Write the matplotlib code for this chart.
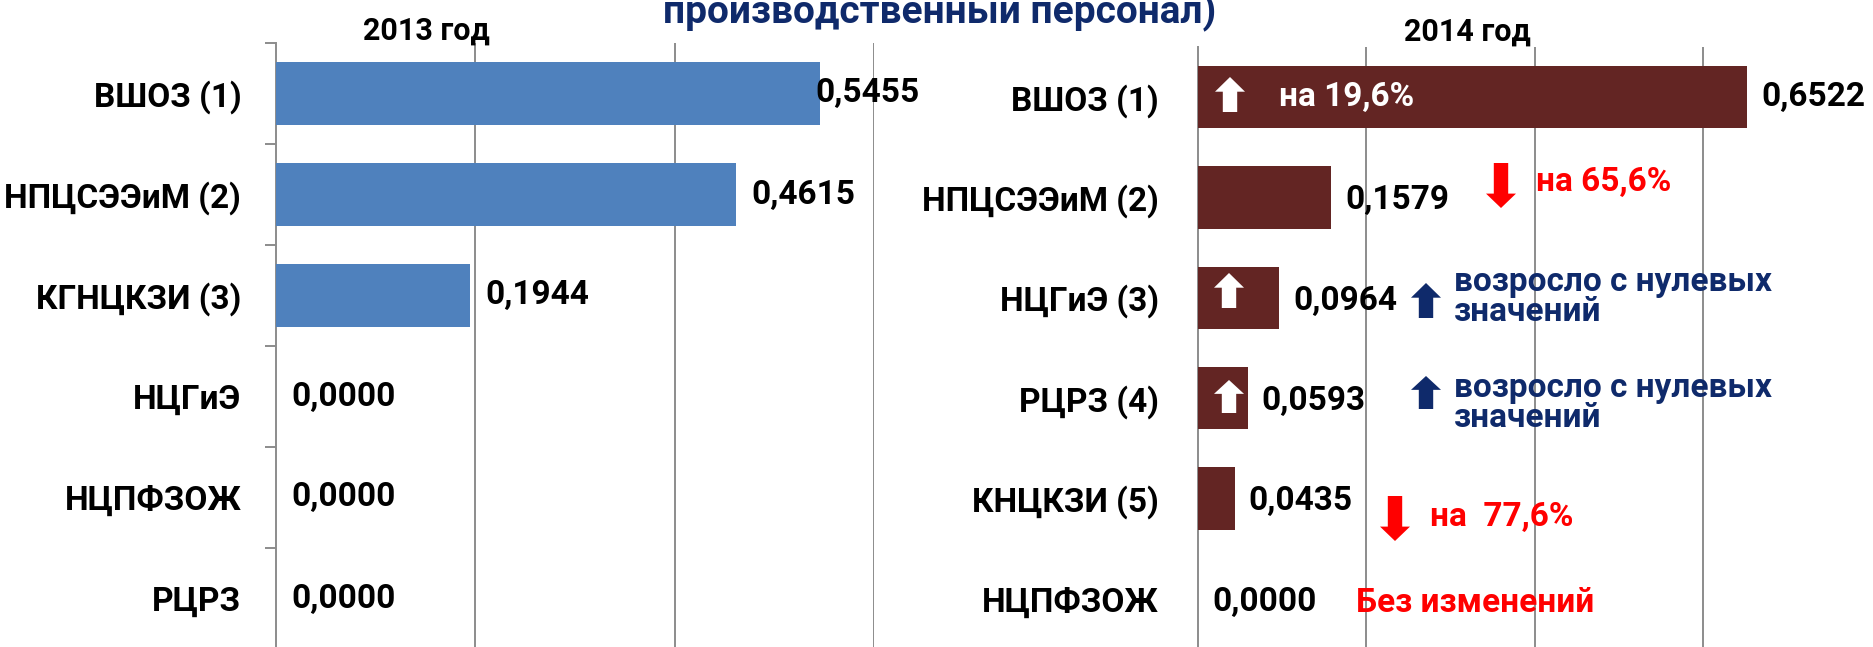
import matplotlib
matplotlib.use('Agg')
import matplotlib.pyplot as plt
from matplotlib.patches import Polygon

plt.rcParams['font.family'] = ['Roboto', 'DejaVu Sans']
plt.rcParams['font.weight'] = 'bold'

# ---------------- data ----------------
title_text = "производственный персонал)"
year_2013 = "2013 год"
year_2014 = "2014 год"

cats_2013 = ["ВШОЗ (1)", "НПЦСЭЭиМ (2)", "КГНЦКЗИ (3)", "НЦГиЭ", "НЦПФЗОЖ", "РЦРЗ"]
vals_2013 = [0.5455, 0.4615, 0.1944, 0.0, 0.0, 0.0]

cats_2014 = ["ВШОЗ (1)", "НПЦСЭЭиМ (2)", "НЦГиЭ (3)", "РЦРЗ (4)", "КНЦКЗИ (5)", "НЦПФЗОЖ"]
vals_2014 = [0.6522, 0.1579, 0.0964, 0.0593, 0.0435, 0.0]

grid_2013 = [0.2, 0.4, 0.6]
grid_2014 = [0.2, 0.4, 0.6]

note_up = "на 19,6%"
note_down1 = "на 65,6%"
note_zero = "возросло с нулевых\nзначений"
note_down2 = "на  77,6%"
note_same = "Без изменений"

# ---------------- style ----------------
W, H = 1874, 647
BLUE = '#4F81BD'
MAROON = '#632523'
NAVY = '#0F2A6B'
RED = '#FF0000'
GRID = '#8C8C8C'
FS = 24

fig = plt.figure(figsize=(W / 100, H / 100), dpi=100)


def fx(px):
    return px / W


def fy(py):
    return 1 - py / H


def fmt(v):
    return f"{v:.4f}".replace('.', ',')


def setup(ax, cats, vals, color, xmax, grid, ticks_out, pad):
    n = len(cats)
    ax.barh(range(n), vals, height=0.62, color=color, zorder=3)
    ax.set_ylim(n - 0.5, -0.5)
    ax.set_xlim(0, xmax)
    ax.set_xticks(grid)
    ax.xaxis.grid(True, color=GRID, linewidth=1.4, zorder=0)
    ax.tick_params(axis='x', length=0, labelbottom=False)
    ax.set_yticks(range(n))
    ax.set_yticklabels(cats, fontsize=FS, fontweight='bold')
    ax.tick_params(axis='y', which='major', length=0, pad=pad)
    if ticks_out:
        ax.set_yticks([i - 0.5 for i in range(n + 1)], minor=True)
        ax.tick_params(axis='y', which='minor', length=8, width=1.4,
                       color=GRID, direction='out')
    for s in ['top', 'right', 'bottom']:
        ax.spines[s].set_visible(False)
    ax.spines['left'].set_color(GRID)
    ax.spines['left'].set_linewidth(1.4)
    ax.set_facecolor('none')


ax1 = fig.add_axes([fx(276), fy(649), fx(874 - 276), (649 - 43) / H])
ax2 = fig.add_axes([fx(1198), fy(649), fx(1872 - 1198), (649 - 47) / H])

setup(ax1, cats_2013, vals_2013, BLUE, 0.6, grid_2013, True, 25)
setup(ax2, cats_2014, vals_2014, MAROON, 0.8, grid_2014, False, 28)

offs1 = [-3, 11, 11, 11, 11, 11]
for i, v in enumerate(vals_2013):
    ax1.annotate(fmt(v), xy=(v, i), xytext=(offs1[i], 0), textcoords='offset points',
                 ha='left', va='center', fontsize=FS, fontweight='bold',
                 color='black', zorder=5, annotation_clip=False)
for i, v in enumerate(vals_2014):
    ax2.annotate(fmt(v), xy=(v, i), xytext=(10, -2 if i else 0), textcoords='offset points',
                 ha='left', va='center', fontsize=FS, fontweight='bold',
                 color='black', zorder=5, annotation_clip=False)

# ---------------- titles ----------------
fig.text(fx(940), fy(23), title_text, ha='center', va='baseline',
         fontsize=28, fontweight='bold', color=NAVY)
fig.text(fx(426), fy(31), year_2013, ha='center', va='center',
         fontsize=22, fontweight='bold', color='black')
fig.text(fx(1467), fy(32), year_2014, ha='center', va='center',
         fontsize=22, fontweight='bold', color='black')


# ---------------- arrows & notes ----------------
def block_arrow(cx, top, bottom, w, color, up=True, head=0.42, shaft=0.48):
    L = bottom - top
    hw = w / 2
    sw = w * shaft / 2
    hl = L * head
    if up:
        pts = [(cx, top), (cx + hw, top + hl), (cx + sw, top + hl), (cx + sw, bottom),
               (cx - sw, bottom), (cx - sw, top + hl), (cx - hw, top + hl)]
    else:
        pts = [(cx, bottom), (cx + hw, bottom - hl), (cx + sw, bottom - hl), (cx + sw, top),
               (cx - sw, top), (cx - sw, bottom - hl), (cx - hw, bottom - hl)]
    pts = [(fx(x), fy(y)) for x, y in pts]
    fig.patches.append(Polygon(pts, closed=True, transform=fig.transFigure,
                               facecolor=color, edgecolor='none', zorder=10))


block_arrow(1230, 77, 112, 30, 'white', up=True)
block_arrow(1501, 163, 208, 30, RED, up=False, head=0.32)
block_arrow(1229, 273, 308, 30, 'white', up=True)
block_arrow(1426, 283, 318, 30, NAVY, up=True)
block_arrow(1229, 380, 413, 30, 'white', up=True)
block_arrow(1426, 376, 409, 30, NAVY, up=True)
block_arrow(1395, 496, 541, 30, RED, up=False, head=0.32)

fig.text(fx(1279), fy(97), note_up, ha='left', va='center', fontsize=FS,
         fontweight='bold', color='white', zorder=11)
fig.text(fx(1536), fy(182), note_down1, ha='left', va='center', fontsize=FS,
         fontweight='bold', color=RED)
fig.text(fx(1454), fy(297), note_zero, ha='left', va='center', fontsize=FS,
         fontweight='bold', color=NAVY, linespacing=0.92)
fig.text(fx(1454), fy(403), note_zero, ha='left', va='center', fontsize=FS,
         fontweight='bold', color=NAVY, linespacing=0.92)
fig.text(fx(1430), fy(517), note_down2, ha='left', va='center', fontsize=FS,
         fontweight='bold', color=RED)
fig.text(fx(1356), fy(603), note_same, ha='left', va='center', fontsize=FS,
         fontweight='bold', color=RED)

fig.savefig('out.png', dpi=100)
